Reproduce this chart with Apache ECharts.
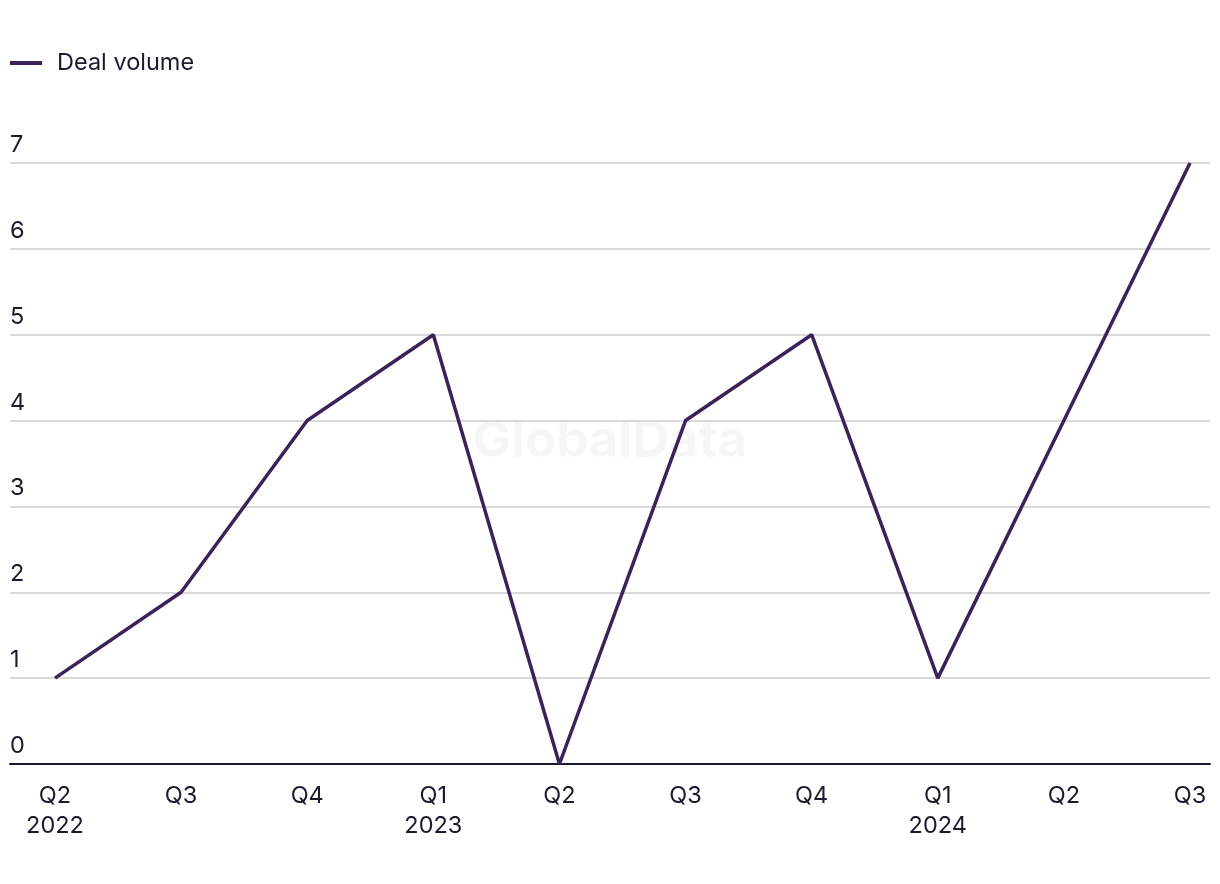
<!DOCTYPE html>
<html>
<head>
<meta charset="utf-8">
<script src="https://cdn.jsdelivr.net/npm/echarts@6/dist/echarts.min.js"></script>
<style>
html,body{margin:0;padding:0;background:#fff;}
#chart{width:1220px;height:884px;}
</style>
</head>
<body>
<div id="chart"></div>
<script>
var categories = ['Q2\n2022','Q3','Q4','Q1\n2023','Q2','Q3','Q4','Q1\n2024','Q2','Q3'];
var dealVolume = [1, 2, 4, 5, 0, 4, 5, 1, 4, 7];
var yTicks = [0,1,2,3,4,5,6,7];

var textColor = '#1b1a2e';
var lineColor = '#3a2359';
var font = "'Inter', 'Noto Sans', sans-serif";

var chart = echarts.init(document.getElementById('chart'));
var seriesData = dealVolume.map(function(v,i){ return [i, v]; });
var catIdx = categories.map(function(c,i){ return i; });

chart.setOption({
  backgroundColor: '#fff',
  animation: false,
  graphic: [{
    type: 'text',
    left: 'center',
    top: 416,
    style: {
      text: 'GlobalData',
      fill: 'rgba(0,0,0,0.035)',
      font: "bold 51px 'Inter', 'Noto Sans', sans-serif"
    }
  }],
  legend: {
    left: 5,
    top: 46,
    itemWidth: 32,
    itemHeight: 4,
    itemGap: 20,
    textStyle: { color: textColor, fontSize: 23.5, fontFamily: font, padding: [0,0,0,10] },
    data: [{ name: 'Deal volume', icon: 'path://M0,0 L32,0 L32,4 L0,4 Z' }]
  },
  grid: { left: 10, right: 10, top: 163, bottom: 120, containLabel: false },
  xAxis: {
    type: 'value',
    min: -0.3568,
    max: 9.1586,
    splitLine: { show: false },
    axisLine: { show: true, lineStyle: { color: textColor, width: 2 } },
    axisTick: { show: false },
    axisLabel: {
      customValues: catIdx,
      formatter: function(v){ return categories[Math.round(v)]; },
      color: textColor,
      fontSize: 23.5,
      fontFamily: font,
      lineHeight: 30,
      margin: 17,
      showMinLabel: true,
      showMaxLabel: true
    }
  },
  yAxis: {
    type: 'value',
    min: 0,
    max: 7,
    interval: 1,
    axisLine: { show: false },
    axisTick: { show: false },
    splitLine: { lineStyle: { color: '#d9d9d9', width: 2 } },
    axisLabel: {
      inside: true,
      align: 'left',
      verticalAlign: 'bottom',
      margin: 0,
      padding: [0,0,6,0],
      color: textColor,
      fontSize: 23.5,
      fontFamily: font,
      formatter: function(v){ return yTicks.indexOf(v) >= 0 ? String(v) : ''; }
    }
  },
  series: [{
    name: 'Deal volume',
    type: 'line',
    data: seriesData,
    symbol: 'none',
    lineStyle: { color: lineColor, width: 3.5 },
    itemStyle: { color: lineColor },
    z: 5
  }]
});
</script>
</body>
</html>
